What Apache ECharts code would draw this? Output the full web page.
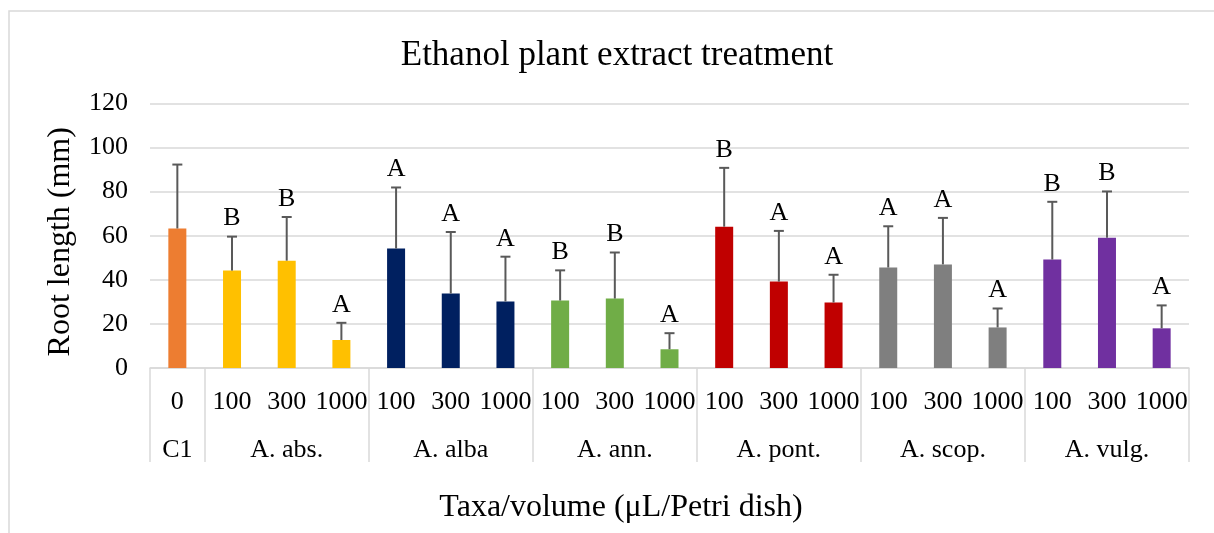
<!DOCTYPE html>
<html>
<head>
<meta charset="utf-8">
<script src="https://cdn.jsdelivr.net/npm/echarts@6/dist/echarts.min.js"></script>
<style>
html,body{margin:0;padding:0;background:#fff;}
#chart{width:1214px;height:533px;}
</style>
</head>
<body>
<div id="chart"></div>
<script>
// ---- data ----
const taxa = ['C1', 'A. abs.', 'A. alba', 'A. ann.', 'A. pont.', 'A. scop.', 'A. vulg.'];
const volumes = [
  ['0'],
  ['100', '300', '1000'],
  ['100', '300', '1000'],
  ['100', '300', '1000'],
  ['100', '300', '1000'],
  ['100', '300', '1000'],
  ['100', '300', '1000']
];
const means = [63.3, 44.2, 48.7, 12.7, 54.2, 33.8, 30.2, 30.6, 31.5, 8.5, 64.1, 39.2, 29.7, 45.6, 47.0, 18.4, 49.2, 59.1, 18.0];
const sds = [29.0, 15.4, 19.8, 7.8, 27.7, 27.9, 20.3, 13.7, 20.9, 7.3, 26.7, 23.0, 12.6, 18.7, 21.1, 8.6, 26.2, 21.0, 10.4];
const letters = ['', 'B', 'B', 'A', 'A', 'A', 'A', 'B', 'B', 'A', 'B', 'A', 'A', 'A', 'A', 'A', 'B', 'B', 'A'];
const yTicks = { min: 0, max: 120, interval: 20 };

// ---- styles ----
const taxonColors = ['#ED7D31', '#FFC000', '#002060', '#70AD47', '#C00000', '#7F7F7F', '#7030A0'];
const FONT = "'Liberation Serif', 'Times New Roman', serif";

// build per-category arrays
const catLabels = [], catTaxon = [], catTaxonName = [], groupCenter = [], groupStart = [];
volumes.forEach((vols, ti) => {
  vols.forEach((v, vi) => {
    catLabels.push(v);
    catTaxon.push(ti);
    catTaxonName.push(taxa[ti]);
    groupCenter.push(vi === Math.floor(vols.length / 2));
    groupStart.push(vi === 0);
  });
});

const chart = echarts.init(document.getElementById('chart'));
chart.setOption({
  animation: false,
  backgroundColor: '#fff',
  title: {
    text: 'Ethanol plant extract treatment',
    left: 612, top: 33, textAlign: 'center',
    textStyle: { fontFamily: FONT, fontSize: 35, fontWeight: 'normal', color: '#000' }
  },
  grid: { left: 150, right: 25, top: 103.5, bottom: 165, containLabel: false },
  xAxis: [
    {
      type: 'category', position: 'bottom', data: catLabels,
      axisLine: { show: true, lineStyle: { color: '#d9d9d9', width: 1.5 } },
      axisTick: { show: true, length: 94, interval: (i) => groupStart[i], lineStyle: { color: '#d9d9d9', width: 1.5 } },
      axisLabel: { interval: 0, margin: 21, fontFamily: FONT, fontSize: 26, color: '#000' }
    },
    {
      type: 'category', position: 'bottom', data: catTaxonName,
      axisLine: { show: false }, axisTick: { show: false },
      axisLabel: { interval: (i) => groupCenter[i], margin: 69, fontFamily: FONT, fontSize: 26, color: '#000' }
    }
  ],
  yAxis: {
    type: 'value', min: yTicks.min, max: yTicks.max, interval: yTicks.interval,
    axisLine: { show: false }, axisTick: { show: false },
    splitLine: { lineStyle: { color: '#d9d9d9', width: 1.5 } },
    axisLabel: { margin: 22, fontFamily: FONT, fontSize: 26, color: '#000' },
    name: 'Root length (mm)', nameLocation: 'middle', nameGap: 73,
    nameTextStyle: { fontFamily: FONT, fontSize: 32, color: '#000', padding: [0, 12, 0, 0] }
  },
  graphic: [
    { type: 'rect', shape: { x: 9, y: 11, width: 1230, height: 560 }, style: { fill: 'none', stroke: '#d9d9d9', lineWidth: 1.5 }, silent: true, z: -1 },
    { type: 'text', x: 621, y: 508, style: { text: 'Taxa/volume (μL/Petri dish)', fontFamily: FONT, fontSize: 32, fill: '#000', align: 'center', verticalAlign: 'middle' } }
  ],
  series: [
    {
      type: 'bar', xAxisIndex: 0, barWidth: 18,
      data: means.map((m, i) => ({ value: m, itemStyle: { color: taxonColors[catTaxon[i]] } }))
    },
    {
      type: 'custom', xAxisIndex: 0, z: 5,
      data: means.map((m, i) => [i, m, sds[i]]),
      renderItem: function (params, api) {
        const x = api.value(0), m = api.value(1), sd = api.value(2);
        const base = api.coord([x, m]);
        const top = api.coord([x, m + sd]);
        const half = 5;
        const st = { stroke: '#595959', lineWidth: 2 };
        return {
          type: 'group', children: [
            { type: 'line', shape: { x1: base[0], y1: base[1], x2: top[0], y2: top[1] }, style: st },
            { type: 'line', shape: { x1: top[0] - half, y1: top[1], x2: top[0] + half, y2: top[1] }, style: st },
            { type: 'text', x: top[0], y: top[1] - 5, style: { text: letters[params.dataIndex], fontFamily: FONT, fontSize: 26, fill: '#000', align: 'center', verticalAlign: 'bottom' } }
          ]
        };
      }
    }
  ]
});
</script>
</body>
</html>
